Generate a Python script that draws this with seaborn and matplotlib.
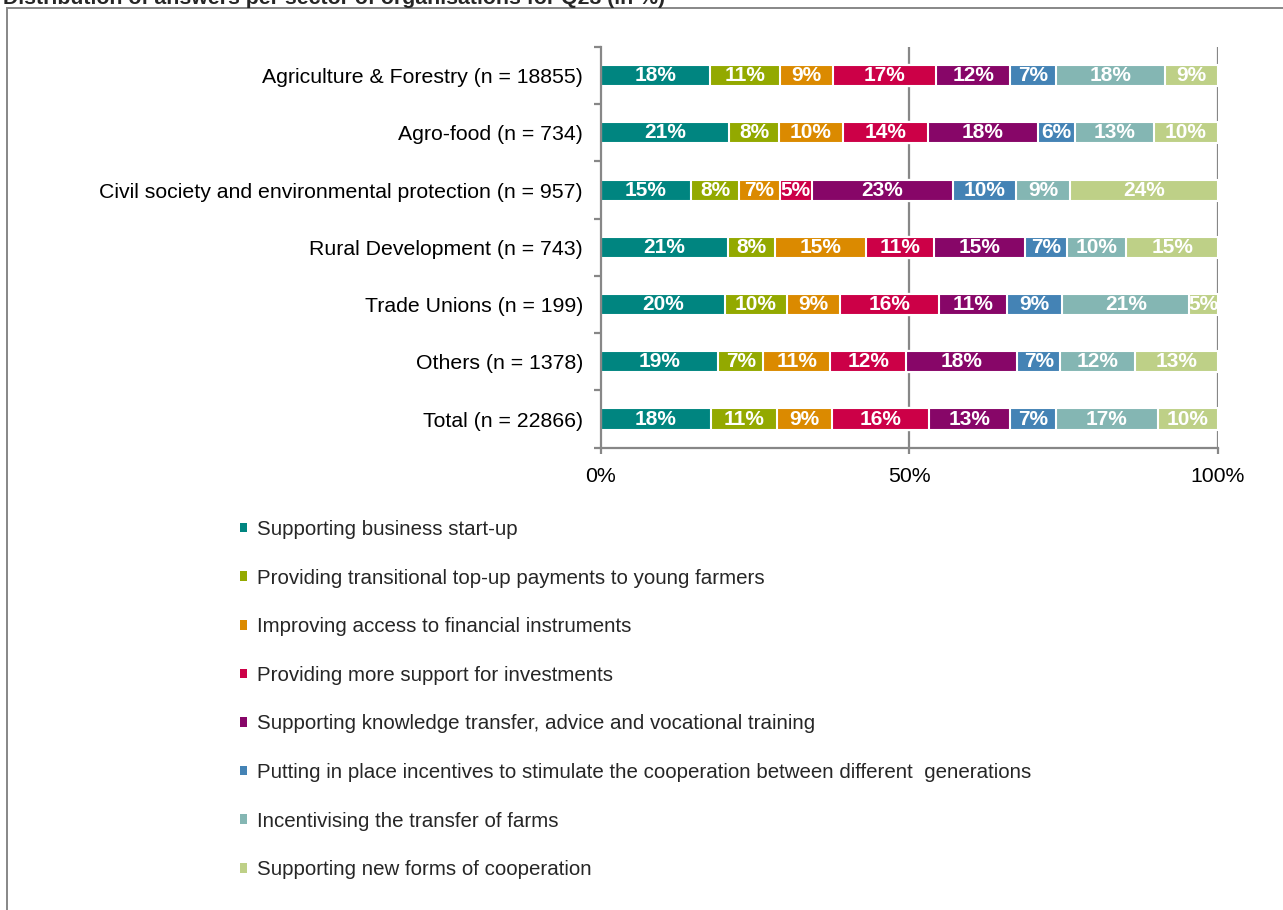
import numpy as np
import pandas as pd
import matplotlib
matplotlib.use("Agg")
import matplotlib.pyplot as plt
from matplotlib.patches import Rectangle, Patch
import seaborn as sns

sns.set_theme(style="white")
plt.rcParams['font.family'] = ['Liberation Sans', 'DejaVu Sans']

title = "Distribution of answers per sector of organisations for Q23 (in %)"

sectors = ["Agriculture & Forestry (n = 18855)", "Agro-food (n = 734)",
           "Civil society and environmental protection (n = 957)",
           "Rural Development (n = 743)", "Trade Unions (n = 199)",
           "Others (n = 1378)", "Total (n = 22866)"]

measures = ["Supporting business start-up",
            "Providing transitional top-up payments to young farmers",
            "Improving access to financial instruments",
            "Providing more support for investments",
            "Supporting knowledge transfer, advice and vocational training",
            "Putting in place incentives to stimulate the cooperation between different  generations",
            "Incentivising the transfer of farms",
            "Supporting new forms of cooperation"]

# share of answers (%) per sector, one list per measure
start_up     = [17.7, 20.8, 14.6, 20.6, 20.1, 19.0, 17.8]
top_up       = [11.3,  8.0,  7.8,  7.6, 10.0,  7.3, 10.7]
financial    = [ 8.7, 10.4,  6.6, 14.8,  8.6, 10.9,  9.0]
investments  = [16.7, 13.8,  5.2, 11.0, 16.1, 12.3, 15.7]
knowledge    = [11.9, 17.8, 22.8, 14.8, 11.0, 18.0, 13.1]
generations  = [ 7.4,  6.1, 10.3,  6.8,  9.0,  7.0,  7.4]
transfer     = [17.7, 12.7,  8.8,  9.6, 20.6, 12.1, 16.6]
new_coop     = [ 8.6, 10.4, 23.9, 14.8,  4.6, 13.4,  9.7]

colors = ["#008580", "#93A900", "#DB8A00", "#CC0047",
          "#870668", "#4483B5", "#84B6B3", "#BED087"]

series = [start_up, top_up, financial, investments, knowledge,
          generations, transfer, new_coop]
vals = np.array(series).T
cum = np.cumsum(vals, axis=1)

grey = "#878787"
fs = 15.3

fig = plt.figure(figsize=(12.83, 9.10), dpi=100)
ax = fig.add_axes([601 / 1283, 1 - 447.7 / 910, 616.7 / 1283, 400.7 / 910])

# vertical gridlines behind the bars
for g in [50, 100]:
    ax.axvline(g, color=grey, lw=1.6, zorder=0)

# stacked bars: draw cumulative totals from longest to shortest
for i in reversed(range(len(measures))):
    df = pd.DataFrame({"sector": sectors, "value": cum[:, i]})
    sns.barplot(data=df, x="value", y="sector", orient="h", color=colors[i],
                width=0.37, edgecolor="white", linewidth=1.5, saturation=1,
                ax=ax, zorder=2)

for r in range(len(sectors)):
    left = 0
    for i in range(len(measures)):
        v = vals[r, i]
        ax.text(left + v / 2, r, f"{v:.0f}%", ha="center", va="center",
                color="white", fontsize=15, fontweight="bold", zorder=5)
        left += v

ax.set_xlim(0, 100)
ax.set_ylim(len(sectors) - 0.5, -0.5)
ax.set_xticks([0, 50, 100])
ax.set_xticklabels(["0%", "50%", "100%"])
ax.set_xlabel("")
ax.set_ylabel("")
ax.set_yticks(np.arange(-0.5, len(sectors)), minor=True)
ax.tick_params(axis="y", which="major", length=0, pad=13, labelsize=fs, colors="black")
ax.tick_params(axis="y", which="minor", length=5, width=1.6, color=grey, left=True)
ax.tick_params(axis="x", which="major", length=4, width=1.6, color=grey, bottom=True,
               pad=10, labelsize=fs, labelcolor="black")
for s in ["top", "right"]:
    ax.spines[s].set_visible(False)
for s in ["left", "bottom"]:
    ax.spines[s].set_color(grey)
    ax.spines[s].set_linewidth(1.6)

handles = [Patch(facecolor=c, edgecolor="none") for c in colors]
fig.legend(handles, measures, loc="upper left", bbox_to_anchor=(240 / 1283, 1 - 520 / 910),
           frameon=False, fontsize=14.8, handlelength=0.35, handleheight=0.35,
           handletextpad=0.5, labelspacing=1.44, borderaxespad=0, borderpad=0)

fig.patches.append(Rectangle((6.5 / 1283, -0.05), 1.2, 1 - 8.5 / 910 + 0.05,
                             transform=fig.transFigure, fill=False,
                             edgecolor=grey, lw=1.4))
fig.text(3 / 1283, 1 - 4.5 / 910, title, va="baseline", ha="left",
         fontsize=fs, fontweight="bold")

fig.savefig("out.png", dpi=100)
